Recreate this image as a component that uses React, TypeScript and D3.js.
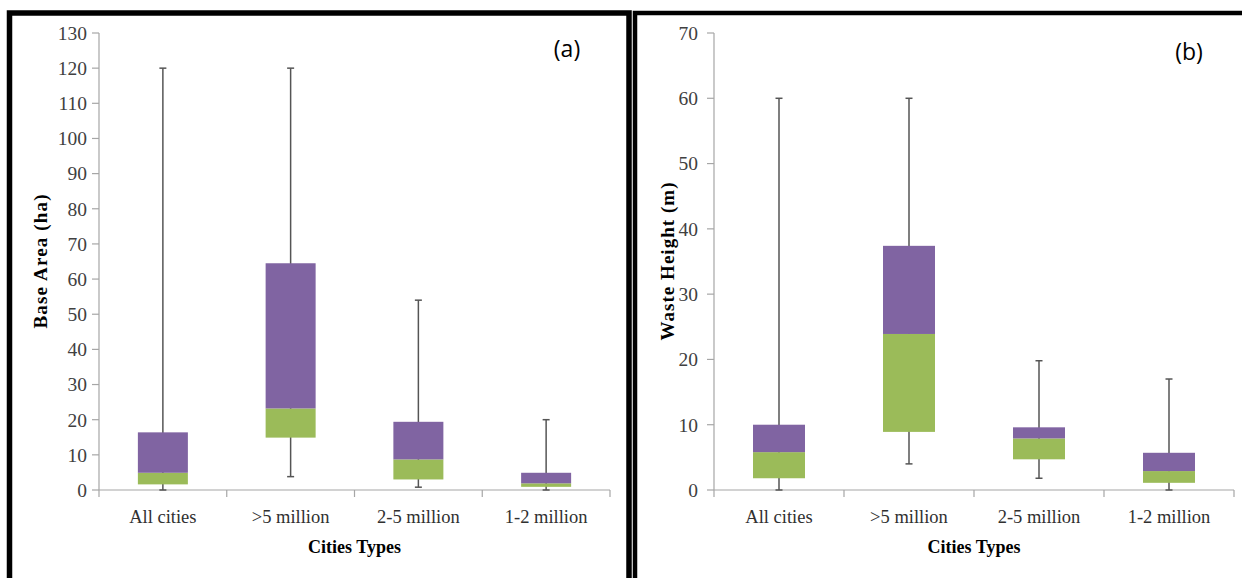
import React from "react";
import * as d3 from "d3";

const categories = ["All cities", ">5 million", "2-5 million", "1-2 million"];

// Panel (a): Base Area (ha)
const areaMin = [0, 3.8, 0.8, 0];
const areaQ1 = [1.6, 14.9, 3.0, 0.9];
const areaMedian = [4.9, 23.2, 8.7, 1.9];
const areaQ3 = [16.4, 64.5, 19.4, 4.9];
const areaMax = [120, 120, 54, 20];
const areaTicks = [0, 10, 20, 30, 40, 50, 60, 70, 80, 90, 100, 110, 120, 130];

// Panel (b): Waste Height (m)
const heightMin = [0, 4.0, 1.8, 0];
const heightQ1 = [1.8, 8.9, 4.7, 1.1];
const heightMedian = [5.8, 23.9, 7.9, 2.9];
const heightQ3 = [10, 37.4, 9.6, 5.7];
const heightMax = [60, 60, 19.8, 17];
const heightTicks = [0, 10, 20, 30, 40, 50, 60, 70];

const PURPLE = "#8064A2";
const GREEN = "#9BBB59";
const AXIS = "#a6a6a6";
const WHISK = "#555555";
const SERIF = "'Liberation Serif', 'Times New Roman', serif";
const SANS = "'Open Sans', 'Liberation Sans', sans-serif";

type PanelProps = {
  x0: number;
  x1: number;
  yMax: number;
  ticks: number[];
  mins: number[];
  q1: number[];
  med: number[];
  q3: number[];
  maxs: number[];
  boxW: number;
  labelGap: number;
  yTitle: string;
  yTitleX: number;
  yTitleLen: number;
  tag: string;
  tagX: number;
  tagY: number;
};

function Panel(p: PanelProps) {
  const yTop = 33;
  const yBot = 490;
  const y = d3.scaleLinear().domain([0, p.yMax]).range([yBot, yTop]);
  const x = d3.scaleBand<string>().domain(categories).range([p.x0, p.x1]).padding(0);
  const bw = x.bandwidth();
  const boundaries = d3.range(categories.length + 1).map((i) => p.x0 + i * bw);
  const midY = (yTop + yBot) / 2;
  return (
    <g>
      {/* y axis */}
      <line x1={p.x0} x2={p.x0} y1={yTop} y2={yBot} stroke={AXIS} strokeWidth={1.2} />
      {p.ticks.map((t) => (
        <g key={t}>
          <line x1={p.x0 - 7} x2={p.x0} y1={y(t)} y2={y(t)} stroke={AXIS} strokeWidth={1.2} />
          <text
            x={p.x0 - p.labelGap}
            y={y(t)}
            dy="0.35em"
            textAnchor="end"
            fontFamily={SERIF}
            fontSize={19.5}
            fill="#404040"
          >
            {t}
          </text>
        </g>
      ))}
      {/* x axis */}
      <line x1={p.x0} x2={p.x1} y1={yBot} y2={yBot} stroke={AXIS} strokeWidth={1.2} />
      {boundaries.map((bx, i) => (
        <line key={i} x1={bx} x2={bx} y1={yBot} y2={yBot + 7} stroke={AXIS} strokeWidth={1.2} />
      ))}
      {categories.map((c) => (
        <text
          key={c}
          x={(x(c) as number) + bw / 2}
          y={523}
          textAnchor="middle"
          fontFamily={SERIF}
          fontSize={18.5}
          fill="#303030"
        >
          {c}
        </text>
      ))}
      {/* boxes */}
      {categories.map((c, i) => {
        const cx = (x(c) as number) + bw / 2;
        const left = cx - p.boxW / 2;
        return (
          <g key={c}>
            <line x1={cx} x2={cx} y1={y(p.maxs[i])} y2={y(p.mins[i])} stroke={WHISK} strokeWidth={1.5} />
            <line x1={cx - 3.5} x2={cx + 3.5} y1={y(p.maxs[i])} y2={y(p.maxs[i])} stroke={WHISK} strokeWidth={1.5} />
            <line x1={cx - 3.5} x2={cx + 3.5} y1={y(p.mins[i])} y2={y(p.mins[i])} stroke={WHISK} strokeWidth={1.5} />
            <rect x={left} width={p.boxW} y={y(p.med[i])} height={y(p.q1[i]) - y(p.med[i])} fill={GREEN} />
            <rect x={left} width={p.boxW} y={y(p.q3[i])} height={y(p.med[i]) - y(p.q3[i])} fill={PURPLE} />
          </g>
        );
      })}
      {/* titles */}
      <text
        transform={`translate(${p.yTitleX},${midY}) rotate(-90)`}
        textAnchor="middle"
        dy="0.35em"
        fontFamily={SERIF}
        fontWeight="bold"
        fontSize={19}
        textLength={p.yTitleLen}
        lengthAdjust="spacing"
        fill="#000"
      >
        {p.yTitle}
      </text>
      <text
        x={(p.x0 + p.x1) / 2}
        y={553}
        textAnchor="middle"
        fontFamily={SERIF}
        fontWeight="bold"
        fontSize={18}
        fill="#000"
      >
        Cities Types
      </text>
      <text x={p.tagX} y={p.tagY} textAnchor="middle" fontFamily={SANS} fontSize={23} fill="#000">
        {p.tag}
      </text>
    </g>
  );
}

export default function App() {
  return (
    <svg
      width={1242}
      height={578}
      style={{ position: "absolute", left: 0, top: 0, background: "#fff" }}
    >
      <rect x={0} y={0} width={1242} height={578} fill="#fff" />
      {/* panel frames */}
      <rect x={9.5} y={13} width={619.5} height={640} fill="none" stroke="#000" strokeWidth={5.5} />
      <rect x={635} y={13} width={640} height={640} fill="none" stroke="#000" strokeWidth={4.5} />
      <Panel
        x0={99}
        x1={610}
        yMax={130}
        ticks={areaTicks}
        mins={areaMin}
        q1={areaQ1}
        med={areaMedian}
        q3={areaQ3}
        maxs={areaMax}
        boxW={50}
        labelGap={12}
        yTitle="Base Area (ha)"
        yTitleX={40}
        yTitleLen={134}
        tag="(a)"
        tagX={567}
        tagY={57}
      />
      <Panel
        x0={714}
        x1={1234}
        yMax={70}
        ticks={heightTicks}
        mins={heightMin}
        q1={heightQ1}
        med={heightMedian}
        q3={heightQ3}
        maxs={heightMax}
        boxW={52}
        labelGap={16}
        yTitle="Waste Height (m)"
        yTitleX={667}
        yTitleLen={158}
        tag="(b)"
        tagX={1189}
        tagY={60}
      />
    </svg>
  );
}
